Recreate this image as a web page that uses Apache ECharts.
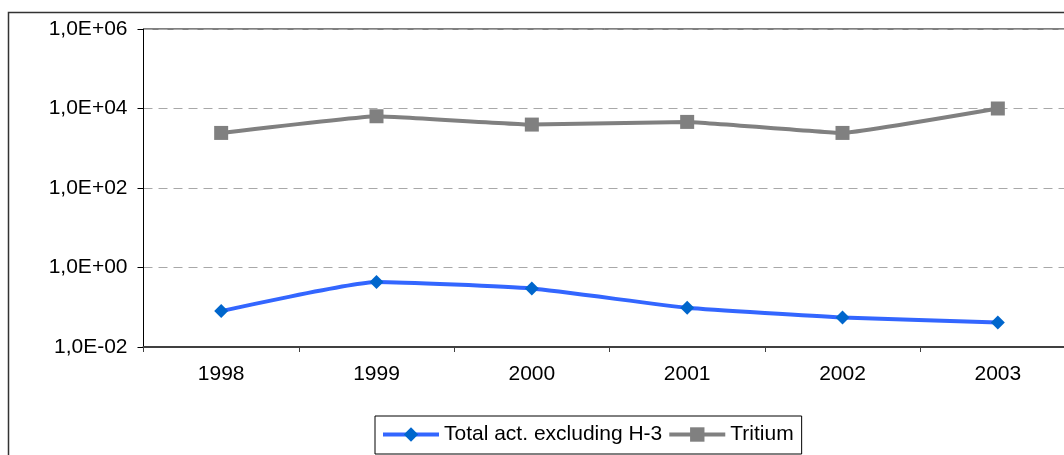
<!DOCTYPE html>
<html>
<head>
<meta charset="utf-8">
<script src="https://cdn.jsdelivr.net/npm/echarts@6/dist/echarts.min.js"></script>
<style>
  html, body { margin: 0; padding: 0; background: #fff; }
  #chart { width: 1064px; height: 455px; }
</style>
</head>
<body>
<div id="chart"></div>
<script>
// Yearly activity values (log scale)
const years = ['1998', '1999', '2000', '2001', '2002', '2003'];
const totalExclH3 = [0.080, 0.43, 0.295, 0.097, 0.0555, 0.0414];
const tritium = [2430, 6380, 3940, 4600, 2430, 10000];
const seriesNames = ['Total act. excluding H-3', 'Tritium'];

const FONT = 'Liberation Sans, Arial, sans-serif';

// Format like "1,0E+06"
function sciLabel(v) {
  const e = Math.round(Math.log10(v));
  const sign = e < 0 ? '-' : '+';
  const a = Math.abs(e);
  return '1,0E' + sign + (a < 10 ? '0' + a : String(a));
}

const chart = echarts.init(document.getElementById('chart'), null, { renderer: 'canvas' });

chart.setOption({
  animation: false,
  backgroundColor: '#ffffff',
  graphic: [{
    type: 'rect',
    left: 6, top: 10,
    shape: { width: 1120, height: 520 },
    style: { fill: 'none', stroke: '#333333', lineWidth: 1.5 },
    silent: true,
    z: -1
  }],
  grid: {
    left: 143.5, top: 29, width: 932, bottom: 108,
    outerBoundsMode: 'none',
    show: true, borderColor: '#000000', borderWidth: 1,
    backgroundColor: 'transparent'
  },
  legend: {
    left: 375, top: 416,
    borderColor: '#000000', borderWidth: 1,
    padding: [8, 8, 9, 6],
    itemWidth: 56, itemHeight: 18, itemGap: 5,
    lineStyle: { width: 4 },
    textStyle: { fontFamily: FONT, fontSize: 21, color: '#000' },
    data: seriesNames
  },
  xAxis: {
    type: 'category',
    data: years,
    boundaryGap: true,
    axisLine: { show: true, lineStyle: { color: '#404040', width: 2 } },
    axisTick: { show: true, length: 5, lineStyle: { color: '#404040', width: 1 } },
    axisLabel: { margin: 17, fontFamily: FONT, fontSize: 21, color: '#000' },
    splitLine: { show: false }
  },
  yAxis: {
    type: 'log',
    logBase: 100,
    min: 0.01, max: 1e6,
    interval: 1,
    axisLine: { show: true, lineStyle: { color: '#000', width: 1 } },
    axisTick: { show: true, length: 6, lineStyle: { color: '#000' } },
    axisLabel: {
      margin: 16, fontFamily: FONT, fontSize: 21, color: '#000',
      formatter: sciLabel
    },
    splitLine: { show: true, lineStyle: { color: '#a8a8a8', type: [9, 6], width: 1 } }
  },
  series: [
    {
      name: seriesNames[0],
      type: 'line',
      data: totalExclH3,
      smooth: 0.15,
      symbol: 'diamond',
      symbolSize: 14,
      lineStyle: { color: '#3366FF', width: 4 },
      itemStyle: { color: '#0066CC' },
      z: 3
    },
    {
      name: seriesNames[1],
      type: 'line',
      data: tritium,
      smooth: 0.08,
      symbol: 'rect',
      symbolSize: 14,
      lineStyle: { color: '#808080', width: 4 },
      itemStyle: { color: '#808080' },
      z: 3
    }
  ]
});
</script>
</body>
</html>
